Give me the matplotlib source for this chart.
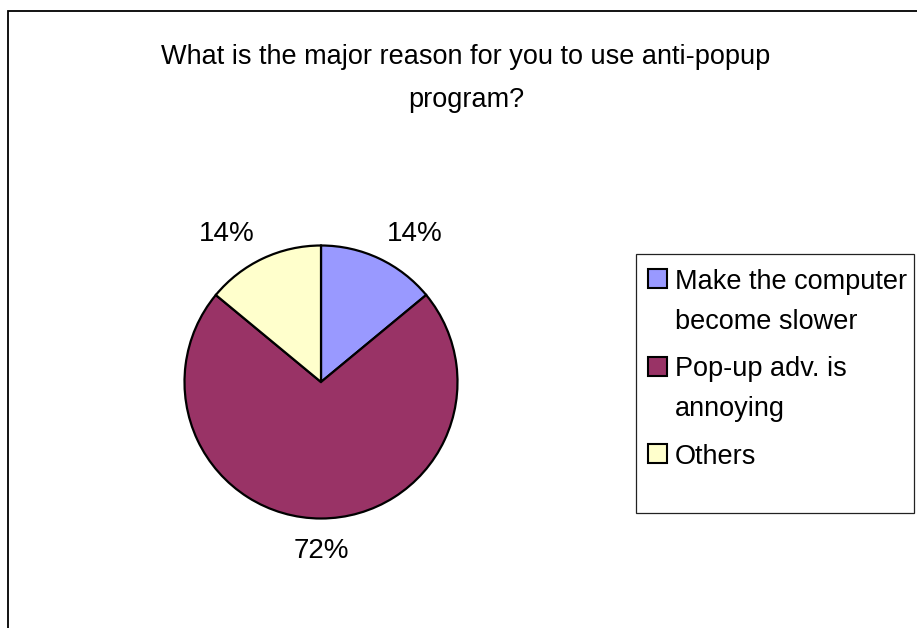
import matplotlib.pyplot as plt
from matplotlib.patches import Rectangle
import numpy as np

plt.rcParams['font.family'] = ['Liberation Sans', 'DejaVu Sans']

title = 'What is the major reason for you to use anti-popup\nprogram?'
reasons = ['Make the computer\nbecome slower', 'Pop-up adv. is\nannoying', 'Others']
shares = [14, 72, 14]
colors = ['#9999FF', '#993366', '#FFFFCC']

W, H = 917, 628
fig = plt.figure(figsize=(W / 100, H / 100), dpi=100)


def px(x, y):
    # pixel position measured from the top-left corner -> figure fraction
    return x / W, 1 - y / H


# outer chart frame (runs off the right and bottom edges)
x0, y0 = px(8, 11)
fig.patches.append(Rectangle((x0, -0.1), 1.2, y0 + 0.1, transform=fig.transFigure,
                             fill=False, edgecolor='black', linewidth=1.3))

fig.text(*px(466, 44), title, ha='center', va='top', fontsize=19.5,
         linespacing=1.87)

# pie: centre (321, 382), radius 136.5 px
cx, cy, r = 321, 382, 136.5
half = 1.5 * r
ax = fig.add_axes([(cx - half) / W, (H - cy - half) / H, 2 * half / W, 2 * half / H])
wedges, _ = ax.pie(shares, colors=colors, startangle=90, counterclock=False,
                   wedgeprops={'edgecolor': 'black', 'linewidth': 1.6})
ax.set_xlim(-1.5, 1.5)
ax.set_ylim(-1.5, 1.5)
ax.axis('off')

for w, v in zip(wedges, shares):
    ang = np.deg2rad((w.theta1 + w.theta2) / 2)
    c, s = np.cos(ang), np.sin(ang)
    ha = 'left' if c > 0.1 else ('right' if c < -0.1 else 'center')
    va = 'baseline' if s > 0 else 'top'
    ax.text(1.14 * c, 1.14 * s, f'{v}%', ha=ha, va=va, fontsize=20)

# legend box
lx, ly = px(636, 513)
lw_, lh_ = (914 - 636) / W, (513 - 254) / H
fig.patches.append(Rectangle((lx, ly), lw_, lh_, transform=fig.transFigure,
                             fill=False, edgecolor='#222222', linewidth=0.9))

top = 269
for lab, col in zip(reasons, colors):
    sx, sy = px(648, top + 19)
    fig.patches.append(Rectangle((sx, sy), 19 / W, 19 / H, transform=fig.transFigure,
                                 facecolor=col, edgecolor='black', linewidth=1.5))
    fig.text(*px(675, top), lab, ha='left', va='top', fontsize=19.5, linespacing=1.68)
    top += (lab.count('\n')) * 38.5 + 49

fig.savefig('out.png', dpi=100)
